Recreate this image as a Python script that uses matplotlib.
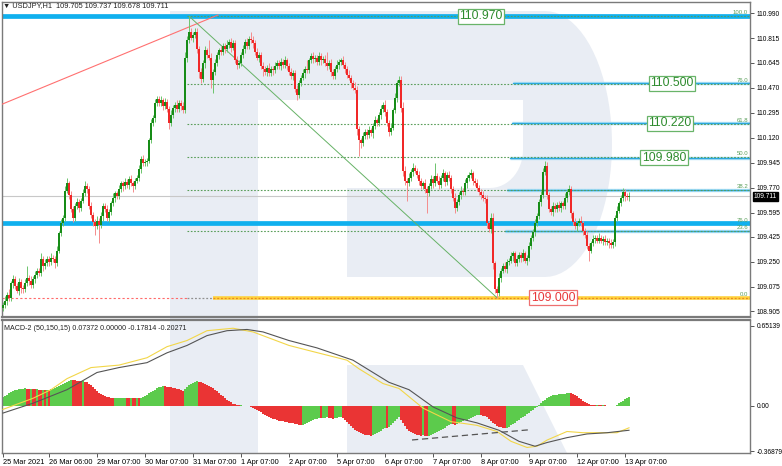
import numpy as np
import matplotlib
matplotlib.use("Agg")
import matplotlib.pyplot as plt
from matplotlib.patches import Polygon
import matplotlib.transforms as mtransforms
from matplotlib import font_manager

plt.rcParams['font.family'] = ['Liberation Sans', 'DejaVu Sans']
_names = {f.name for f in font_manager.fontManager.ttflist}
if 'Liberation Sans Narrow' in _names:
    AX_FAMILY, AX_SIZE = ['Liberation Sans Narrow', 'DejaVu Sans'], 5.6
else:
    AX_FAMILY, AX_SIZE = ['Liberation Sans', 'DejaVu Sans'], 4.8

# ---------------- data ----------------
TITLE_TEXT = "\u25BC USDJPY,H1  109.705 109.737 109.678 109.711"
FIRST_OPEN = 108.93
CLOSE = [
    108.95, 108.98, 109.02, 109.00, 109.10, 109.13, 109.08, 109.05, 109.11, 109.07, 109.06,
    109.10, 109.14, 109.12, 109.09, 109.13, 109.16, 109.19, 109.17, 109.27, 109.22, 109.24,
    109.27, 109.25, 109.28, 109.27, 109.24, 109.33, 109.45, 109.52, 109.56, 109.75, 109.80,
    109.72, 109.62, 109.56, 109.64, 109.67, 109.63, 109.68, 109.73, 109.78, 109.76,
    109.64, 109.58, 109.53, 109.50, 109.54, 109.51, 109.57, 109.64, 109.62, 109.56, 109.60,
    109.66, 109.70, 109.73, 109.71, 109.76, 109.80, 109.78, 109.81, 109.79,
    109.83, 109.80, 109.78, 109.82, 109.84, 109.90, 109.97, 109.94, 109.95, 109.96,
    110.10, 110.22, 110.26, 110.36, 110.39,
    110.36, 110.38, 110.34, 110.37, 110.32, 110.22, 110.28, 110.33,
    110.35, 110.32, 110.36, 110.34, 110.31, 110.68, 110.80, 110.86, 110.82,
    110.84, 110.86, 110.74, 110.58, 110.53, 110.64, 110.73, 110.70, 110.68, 110.52,
    110.58, 110.64, 110.70, 110.73, 110.72, 110.76, 110.74, 110.77, 110.79, 110.75, 110.78,
    110.66, 110.63, 110.64, 110.70, 110.74, 110.79, 110.76, 110.81, 110.80, 110.78,
    110.72, 110.68, 110.70, 110.62, 110.60, 110.58, 110.61, 110.57, 110.60, 110.59, 110.62,
    110.64, 110.62, 110.65, 110.63, 110.66, 110.62, 110.58, 110.55, 110.57, 110.46, 110.42,
    110.50, 110.54, 110.57, 110.60, 110.59, 110.66, 110.69, 110.67, 110.68, 110.65,
    110.69, 110.66, 110.67, 110.64, 110.62, 110.64, 110.58, 110.55, 110.60, 110.63,
    110.65, 110.66, 110.63, 110.60, 110.56, 110.54, 110.50, 110.47, 110.45,
    110.18, 110.10, 110.08, 110.13, 110.16, 110.14, 110.17, 110.15,
    110.20, 110.24, 110.22, 110.28, 110.32, 110.35, 110.30, 110.22, 110.16, 110.19,
    110.31, 110.40, 110.50, 110.52, 110.33, 109.89, 109.82, 109.80, 109.84,
    109.88, 109.91, 109.89, 109.86, 109.82, 109.78, 109.80, 109.76, 109.73, 109.78,
    109.83, 109.80, 109.85, 109.82, 109.79, 109.84, 109.87, 109.81, 109.86, 109.84,
    109.76, 109.70, 109.63, 109.67, 109.72, 109.75, 109.74, 109.80, 109.84, 109.86, 109.87,
    109.82, 109.80, 109.77, 109.74, 109.72, 109.70, 109.69, 109.52, 109.48, 109.56, 109.24,
    109.06, 109.03, 109.14, 109.19, 109.22, 109.20, 109.25, 109.26, 109.29, 109.31,
    109.24, 109.27, 109.30, 109.28, 109.31, 109.26, 109.28, 109.36, 109.42, 109.46,
    109.52, 109.57, 109.67, 109.72, 109.88, 109.92, 109.72, 109.62, 109.60,
    109.64, 109.62, 109.65, 109.63, 109.66, 109.64, 109.70, 109.74, 109.76, 109.59,
    109.53, 109.50, 109.52, 109.54, 109.52, 109.47, 109.44, 109.36, 109.33,
    109.38, 109.41, 109.42, 109.40, 109.42, 109.40, 109.41, 109.39, 109.40, 109.38, 109.37, 109.39,
    109.56, 109.61, 109.66, 109.70, 109.74, 109.71, 109.705, 109.711,
]
UP_PIPS = [
    2,3,2,4,2,3,2,2,3,2, 2,3,8,2,3,2,3,2,2,4, 2,3,2,2,3,2,2,3,2,3, 2,3,4,2,3,2,2,3,2,2,
    3,4,2,2,3,2,2,3,2,3, 2,2,3,2,2,3,2,2,3,2, 2,3,2,2,3,2,2,2,3,2, 3,2,2,2,3,2,3,2,2,3,
    2,3,2,2,3,2,2,3,2,2, 3,4,3,11,3,2,3,3,2,3, 2,3,2,10,3,2,3,2,2,3, 2,2,3,2,3,2,2,3,2,2,
    3,2,3,2,5,3,2,3,2,2, 3,2,2,3,2,2,3,2,2,3, 2,3,2,2,3,2,2,3,2,2, 3,2,6,2,2,3,2,2,3,2,
    2,3,8,2,3,2,2,3,2,2, 3,2,2,3,2,2,4,3,2,2, 3,2,2,3,2,2,3,2,2,3, 2,3,2,2,3,2,3,2,3,3,
    4,3,2,3,2,3,2,2,3,2, 2,3,2,2,3,2,9,2,3,2, 3,2,2,3,2,2,3,2,2,3, 2,3,2,2,3,2,2,3,2,2,
    3,2,3,2,3,3,2,2,3,2, 2,3,2,2,3,2,2,3,2,2, 3,2,2,3,2,2,3,2,2,3, 3,4,3,2,2,3,2,2,3,2,
    2,3,2,3,2,2,3,2,2,3, 2,2,3,2,2,3,2,2,3,2, 2,3,2,2,3,2,2,3,2,2, 3,2,2,2.6,
]
DN_PIPS = [
    2,2,3,2,2,3,2,2,3,4, 3,2,2,3,2,2,3,2,2,2, 3,2,2,3,2,2,3,2,2,2, 2,2,2,3,2,3,2,2,3,2,
    2,2,3,2,2,3,6,2,13,2, 3,2,2,3,2,2,3,2,2,2, 3,2,2,3,2,4,2,2,2,3, 2,2,3,2,2,2,3,2,2,2,
    3,2,2,4,2,2,3,2,2,3, 2,2,3,2,2,3,2,3,4,3, 2,3,2,2,5,9,2,2,3,2, 2,3,2,2,3,2,2,3,2,2,
    2,3,2,2,2,3,2,2,3,2, 5,2,3,2,2,3,2,2,2,3, 2,2,3,2,2,3,2,4,2,2, 2,3,2,2,2,3,2,2,2,3,
    2,2,3,2,3,2,2,2,3,2, 2,3,2,2,3,2,2,4,11,3, 2,2,3,2,2,3,2,2,2,3, 2,3,2,3,2,2,2,3,2,3,
    4,3,12,2,2,3,2,2,3,2, 2,3,14,2,2,3,2,2,3,2, 2,3,2,2,3,2,4,2,2,3, 2,2,3,2,2,3,2,2,2,3,
    2,3,3,2,3,4,3,3,2,3, 2,2,3,2,2,3,2,2,2,3, 2,2,3,2,2,2,3,2,2,3, 2,2,3,2,2,3,2,2,2,3,
    2,2,3,2,3,2,2,3,2,2, 3,2,2,7,2,2,3,2,2,2, 3,2,2,3,2,2,3,2,2,2, 2,3,2,2.7,
]
HIST = [
    0.07, 0.08, 0.09, 0.10, 0.11,
    0.12, 0.125, 0.13, 0.133, 0.136, 0.138, 0.14,
    0.138, 0.136, 0.137, 0.135, 0.133, 0.134, 0.131, 0.129, 0.130, 0.128, 0.131, 0.129,
    0.133, 0.138, 0.145, 0.152, 0.16, 0.168, 0.176, 0.185, 0.194, 0.203, 0.212,
    0.208, 0.205, 0.203, 0.201, 0.199, 0.2, 0.195, 0.19, 0.18,
    0.165, 0.15, 0.135, 0.12, 0.105, 0.095,
    0.085, 0.078, 0.072, 0.067, 0.063, 0.06,
    0.061, 0.062, 0.063, 0.064, 0.065, 0.066,
    0.065, 0.064, 0.065, 0.063, 0.062, 0.063, 0.061,
    0.066, 0.072, 0.08, 0.09, 0.10, 0.11, 0.12, 0.13, 0.14, 0.148, 0.155, 0.16,
    0.158, 0.155, 0.152, 0.149, 0.146, 0.142, 0.138, 0.133, 0.128, 0.123,
    0.135, 0.15, 0.165, 0.178, 0.188, 0.195, 0.198,
    0.194, 0.19, 0.184, 0.177, 0.169, 0.16, 0.15, 0.14, 0.128, 0.116, 0.104, 0.09,
    0.076, 0.063, 0.05, 0.038, 0.027, 0.017,
    0.012, 0.008, 0.004, 0.005, 0.001, -0.003, -0.006, -0.005, -0.01, -0.015,
    -0.025, -0.035, -0.045, -0.055, -0.065, -0.075, -0.085, -0.093, -0.1, -0.106, -0.112, -0.117,
    -0.121, -0.125, -0.128, -0.131, -0.134, -0.137, -0.14, -0.143, -0.147, -0.151, -0.155, -0.16,
    -0.155, -0.148, -0.14, -0.132, -0.125, -0.118, -0.112, -0.106, -0.10,
    -0.104, -0.100, -0.097, -0.095, -0.098, -0.102, -0.105, -0.101, -0.097, -0.094, -0.092,
    -0.10, -0.115, -0.13, -0.148, -0.165, -0.18, -0.195, -0.207, -0.218, -0.226, -0.232, -0.236,
    -0.239, -0.241, -0.243,
    -0.238, -0.232, -0.224, -0.214, -0.202, -0.19, -0.178,
    -0.182,
    -0.17, -0.155, -0.14, -0.125, -0.11, -0.095,
    -0.12, -0.145, -0.168, -0.187, -0.202, -0.214, -0.224, -0.232, -0.238, -0.242, -0.245,
    -0.241, -0.247, -0.25,
    -0.246, -0.24, -0.232, -0.224, -0.215, -0.206, -0.197, -0.188, -0.178, -0.168, -0.158, -0.148,
    -0.152, -0.156,
    -0.15, -0.143, -0.135, -0.128, -0.12, -0.113, -0.106, -0.099, -0.092, -0.085, -0.078, -0.072,
    -0.075, -0.08, -0.085, -0.095, -0.11, -0.125, -0.14, -0.152, -0.162, -0.17, -0.176, -0.18, -0.183,
    -0.178, -0.17, -0.16, -0.15, -0.14, -0.128, -0.116, -0.104, -0.092, -0.08, -0.068, -0.056,
    -0.044, -0.032, -0.02, -0.008,
    0.005, 0.02, 0.035, 0.05, 0.062, 0.072, 0.08, 0.085, 0.088, 0.09, 0.092, 0.094, 0.096, 0.098,
    0.1, 0.105,
    0.1, 0.094, 0.086, 0.076, 0.065, 0.052, 0.04, 0.028, 0.018, 0.01,
    0.006, 0.004, 0.003, 0.004, 0.003, 0.002, 0.003, 0.002, 0.001, -0.002, -0.006, -0.004,
    0.0, 0.008, 0.018, 0.03, 0.042, 0.053, 0.064, 0.0737,
]
MAIN_LINE_X = [0, 15, 32, 47, 58, 72, 82, 92, 102, 112, 122, 130, 143, 157, 175, 185, 193,
               203, 215, 227, 237, 248, 258, 266, 272, 282, 292, 302, 313]
MAIN_LINE_Y = [-0.06, 0.02, 0.13, 0.27, 0.31, 0.35, 0.43, 0.49, 0.57, 0.61, 0.62, 0.60, 0.53,
               0.47, 0.37, 0.27, 0.19, 0.13, -0.01, -0.10, -0.14, -0.20, -0.29, -0.33, -0.30,
               -0.26, -0.23, -0.22, -0.20]
SIGNAL_X = [0, 15, 24, 32, 44, 58, 72, 82, 92, 102, 115, 125, 143, 155, 172, 178, 190, 198,
            210, 224, 237, 247, 254, 262, 267, 272, 282, 290, 300, 307, 313]
SIGNAL_Y = [-0.03, 0.06, 0.13, 0.22, 0.31, 0.33, 0.39, 0.48, 0.53, 0.61, 0.63, 0.60, 0.49,
            0.44, 0.37, 0.30, 0.18, 0.14, -0.02, -0.13, -0.16, -0.21, -0.29, -0.34, -0.33,
            -0.28, -0.21, -0.22, -0.22, -0.22, -0.18]
MACD_TREND_X = [204.5, 262.5]
MACD_TREND_Y = [-0.279, -0.197]

TICK_IDX = [0, 23, 47, 71, 95, 119, 143, 167, 191, 215, 239, 263, 287, 311]
TICK_LABELS = ["25 Mar 2021", "26 Mar 06:00", "29 Mar 07:00", "30 Mar 07:00", "31 Mar 07:00",
               "1 Apr 07:00", "2 Apr 07:00", "5 Apr 07:00", "6 Apr 07:00", "7 Apr 07:00",
               "8 Apr 07:00", "9 Apr 07:00", "12 Apr 07:00", "13 Apr 07:00"]
PRICE_TICKS = [110.990, 110.815, 110.645, 110.470, 110.295, 110.120, 109.945, 109.770,
               109.595, 109.425, 109.250, 109.075, 108.905]
MACD_TICKS = [0.65139, 0.0, -0.36879]
MACD_TICK_LABELS = ["0.65139", "0.00", "-0.36879"]
MACD_TEXT = "MACD-2 (50,150,15) 0.07372 0.00000 -0.17814 -0.20271"
LAST_PRICE = 109.711

FIB_HIGH, FIB_LOW = 110.970, 109.000
FIB_HIGH_IDX, FIB_LOW_IDX = 93, 247
FIB_RATIOS = [1.0, 0.76, 0.618, 0.5, 0.382, 0.236, 0.0]
FIB_NAMES = ["100.0", "76.0", "61.8", "50.0", "38.2", "23.6", "0.0"]
FIB2_LEVEL, FIB2_NAME = 109.520, "76.0"
THICK_LEVELS = [110.970, 109.520]
THIN_LEVELS = [110.500, 110.220, 109.980, 109.753, 109.465]
THIN_START_IDX = [255, 254.5, 253.5, 252, 251]
RED_TREND = ([-1.5, 107.5], [110.348, 110.978])
BOX_TEXT = ["110.970", "110.500", "110.220", "109.980", "109.000"]
BOX_LEVEL = [110.970, 110.500, 110.220, 109.980, 109.000]
BOX_IDX = [239, 334.5, 333.5, 330.5, 275]
BOX_KIND = ["g", "g", "g", "g", "r"]

# ---------------- figure ----------------
W, H = 782, 466
fig = plt.figure(figsize=(W / 100, H / 100), dpi=100)
fig.patch.set_facecolor("white")


def fx(px):
    return px / W


def fy(py):
    return 1 - py / H


# watermark ("R") drawn behind panes, in pixel geometry
wm = "#e9edf4"
def P(pts):
    return [(fx(a), fy(b)) for a, b in pts]

stem = [(170, 11), (258, 11), (258, 453), (170, 453)]
t = np.linspace(np.pi / 2, -np.pi / 2, 40)
outer = [(545 + 67 * np.cos(a), 144 - 133 * np.sin(a)) for a in t]
t2 = np.linspace(0, -np.pi / 2, 15)
inner = [(490 + 33 * np.cos(a), 150 - 38 * np.sin(a)) for a in t2]
bowl = [(258, 11)] + outer + [(347, 277), (347, 188)] + inner[::-1] + [(523, 100), (258, 100)]
leg = [(347, 365), (523, 365), (567, 453), (347, 453)]
for poly in (stem, bowl, leg):
    fig.add_artist(Polygon(P(poly), closed=True, transform=fig.transFigure,
                           facecolor=wm, edgecolor="none", zorder=-5))

ax = fig.add_axes([fx(2), fy(317), (750 - 2) / W, (317 - 2) / H])
ax2 = fig.add_axes([fx(2), fy(453), (750 - 2) / W, (453 - 320) / H], sharex=ax)
for a in (ax, ax2):
    a.set_facecolor("none")
    for s in a.spines.values():
        s.set_color("#7a7a7a")
        s.set_linewidth(1.0)
ax.spines["bottom"].set_linewidth(1.6)
ax2.spines["top"].set_linewidth(1.6)

N = len(CLOSE)
idx = np.arange(N)
closes = np.array(CLOSE, dtype=float)
opens = np.r_[FIRST_OPEN, closes[:-1]]
highs = np.maximum(opens, closes) + np.array(UP_PIPS[:N]) / 100.0
lows = np.minimum(opens, closes) - np.array(DN_PIPS[:N]) / 100.0
bull = closes >= opens

XMIN, XMAX = -0.5, 373.5
ax.set_xlim(XMIN, XMAX)
ax.set_ylim(108.865, 111.069)

# horizontal levels
for lv in THICK_LEVELS:
    ax.axhline(lv, color="#10b0ee", lw=3.4, zorder=2)
for lv, st in zip(THIN_LEVELS, THIN_START_IDX):
    ax.plot([st, XMAX], [lv, lv], color="#a8def5", lw=2.4, zorder=2, solid_capstyle="butt")
    ax.plot([st, XMAX], [lv, lv], color="#2aa8df", lw=0.9, zorder=2.1)

# fib levels (dotted)
rng = FIB_HIGH - FIB_LOW
for r, name in zip(FIB_RATIOS, FIB_NAMES):
    lv = FIB_LOW + r * rng
    if r == 0.0:
        continue
    ax.plot([FIB_HIGH_IDX - 1, XMAX], [lv, lv], color="#5a9e5a", lw=0.8,
            ls=(0, (1.5, 1.5)), zorder=2.5)
# 0.0 level
ax.plot([XMIN, FIB_HIGH_IDX - 1], [FIB_LOW, FIB_LOW], color="#ff6a6a", lw=0.8,
        ls=(0, (2, 2)), zorder=2.5)
ax.plot([FIB_HIGH_IDX - 1, 105], [FIB_LOW, FIB_LOW], color="#909090", lw=0.9,
        ls=(0, (1.5, 1.5)), zorder=2.5)
ax.plot([105, XMAX], [FIB_LOW, FIB_LOW], color="#ffd23c", lw=2.6, zorder=2.4,
        solid_capstyle="butt")
ax.plot([105, XMAX], [FIB_LOW, FIB_LOW], color="#e88a20", lw=0.9, ls=(0, (1.5, 1.5)),
        zorder=2.5)

# current price line
ax.axhline(LAST_PRICE, color="#c8c8c8", lw=0.8, zorder=1.5)

# trend lines
ax.plot(RED_TREND[0], RED_TREND[1], color="#ff7070", lw=0.8, zorder=2.6)
ax.plot([FIB_HIGH_IDX, FIB_LOW_IDX], [FIB_HIGH, FIB_LOW], color="#66b266", lw=0.7, zorder=2.6)

# candles
wick_cols = np.where(bull, "#6cc46c", "#f58c8c")
ax.vlines(idx, lows, highs, colors=wick_cols, lw=0.7, zorder=3)
body_lo = np.minimum(opens, closes)
body_h = np.maximum(np.abs(closes - opens), 0.004)
ax.bar(idx, body_h, bottom=body_lo, width=0.72,
       color=np.where(bull, "#178c17", "#f02828"), lw=0, zorder=3.2)

# fib labels at right edge
lab_tr = mtransforms.blended_transform_factory(ax.transAxes, ax.transData)
for r, name in zip(FIB_RATIOS, FIB_NAMES):
    lv = FIB_LOW + r * rng
    ax.text(0.9975, lv + 0.006, name, transform=lab_tr, ha="right", va="bottom",
            fontsize=4.3, color="#5a9e5a", zorder=4)
ax.text(0.9975, FIB2_LEVEL + 0.006, FIB2_NAME, transform=lab_tr, ha="right", va="bottom",
        fontsize=4.3, color="#5a9e5a", zorder=4)

# boxed value labels
for txt, lv, xi, kind in zip(BOX_TEXT, BOX_LEVEL, BOX_IDX, BOX_KIND):
    col = "#2e8b2e" if kind == "g" else "#e8383a"
    ec = "#69b469" if kind == "g" else "#ee7070"
    ax.text(xi, lv, txt, ha="center", va="center", fontsize=8.8, color=col, zorder=5,
            bbox=dict(boxstyle="square,pad=0.12", fc="white", ec=ec, lw=0.9))

# price axis
ax.yaxis.tick_right()
ax.set_yticks(PRICE_TICKS)
ax.set_yticklabels([f"{v:.3f}" for v in PRICE_TICKS], family=AX_FAMILY)
ax.tick_params(axis="y", direction="out", length=3, width=0.7, color="#555555",
               labelsize=AX_SIZE, pad=1.5)
ax.tick_params(axis="x", bottom=False, labelbottom=False)
ax.text(1.005, LAST_PRICE, f"{LAST_PRICE:.3f}", transform=lab_tr, ha="left", va="center",
        fontsize=AX_SIZE, family=AX_FAMILY, color="white", zorder=6, clip_on=False,
        bbox=dict(boxstyle="square,pad=0.15", fc="black", ec="black"))

fig.text(fx(3), fy(6), TITLE_TEXT, fontsize=5.3, va="center", ha="left", color="#222222")

# ---------------- MACD pane ----------------
hist = np.array(HIST, dtype=float)
hcol = ["#5ccb4c"]
for i in range(1, len(hist)):
    hcol.append("#5ccb4c" if hist[i] > hist[i - 1] else "#ea3434")
ax2.bar(np.arange(len(hist)), hist, width=0.75, color=hcol, lw=0, zorder=2)
ax2.plot(SIGNAL_X, SIGNAL_Y, color="#f2d648", lw=0.8, zorder=3)
ax2.plot(MAIN_LINE_X, MAIN_LINE_Y, color="#555555", lw=0.8, zorder=3.1)
ax2.plot(MACD_TREND_X, MACD_TREND_Y, color="#555555", lw=0.9, ls=(0, (5, 3)), zorder=3.2)
ax2.set_ylim(-0.385, 0.697)
ax2.yaxis.tick_right()
ax2.set_yticks(MACD_TICKS)
ax2.set_yticklabels(MACD_TICK_LABELS, family=AX_FAMILY)
ax2.tick_params(axis="y", direction="out", length=3, width=0.7, color="#555555",
                labelsize=AX_SIZE, pad=1.5)
ax2.set_xticks(TICK_IDX)
ax2.set_xticklabels(TICK_LABELS)
for lbl in ax2.get_xticklabels():
    lbl.set_ha("left")
ax2.tick_params(axis="x", direction="out", length=3, width=0.7, color="#555555",
                labelsize=5.3, pad=1.5)
fig.text(fx(4), fy(328), MACD_TEXT, fontsize=5.1, va="center", ha="left", color="#222222")

fig.savefig("out.png", dpi=100, facecolor="white")
